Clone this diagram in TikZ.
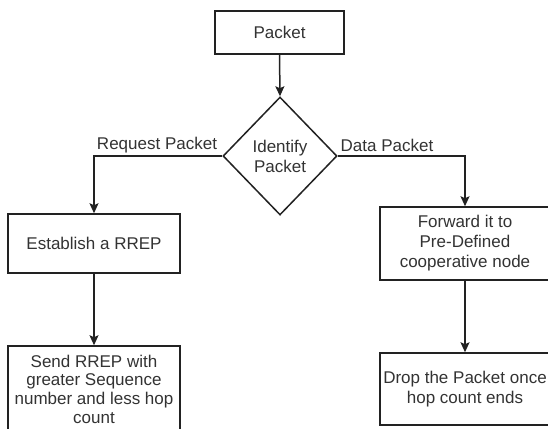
\documentclass[tikz,border=0pt]{standalone}
\usepackage{fontspec}
\setmainfont{Liberation Sans}
\usetikzlibrary{shapes.geometric,arrows.meta}
\definecolor{ink}{HTML}{222222}
\definecolor{txt}{HTML}{333333}
\begin{document}
\begin{tikzpicture}[x=1pt,y=-1pt,
  font=\fontsize{17}{20}\selectfont,
  box/.style={draw=ink,line width=1.5pt,text=txt,align=center,inner sep=0pt},
  decision/.style={diamond,draw=ink,line width=1.5pt,text=txt,align=center,inner sep=0pt,
    minimum width=114pt,minimum height=118pt},
  flow/.style={draw=ink,line width=1.5pt,-{Stealth[length=10pt,width=9pt,inset=2pt]}},
  tag/.style={text=txt,inner sep=0pt}]
  \useasboundingbox (0,0) rectangle (548,428);
  \clip (0,0) rectangle (548,428);
  \fill[white] (0,0) rectangle (548,428);

  % process boxes and the decision diamond
  \node[box,minimum width=129pt,minimum height=43pt] (packet) at (279.5,32.5) {Packet};
  \node[decision] (identify) at (280,156) {Identify\\Packet};
  \node[box,minimum width=172pt,minimum height=59pt] (establish) at (94,243.5) {Establish a RREP};
  \node[box,minimum width=172pt,minimum height=86pt,font=\fontsize{17}{18.7}\selectfont]
    (send) at (94,389) {Send RREP with\\greater Sequence\\number and less hop\\count};
  \node[box,minimum width=170pt,minimum height=73pt] (forward) at (465,243.5)
    {Forward it to\\Pre-Defined\\cooperative node};
  \node[box,minimum width=170pt,minimum height=72pt] (drop) at (465,389)
    {Drop the Packet once\\hop count ends};

  % connectors
  \draw[flow] (packet.south) -- (identify.north);
  \draw[flow] (identify.west) -| (establish.north);
  \draw[flow] (identify.east) -| (forward.north);
  \draw[flow] (establish.south) -- (send.north);
  \draw[flow] (forward.south) -- (drop.north);

  % branch labels
  \node[tag] (reqlabel) at (157,145) {Request Packet};
  \node[tag] (datalabel) at (387,145) {Data Packet};
\end{tikzpicture}
\end{document}
